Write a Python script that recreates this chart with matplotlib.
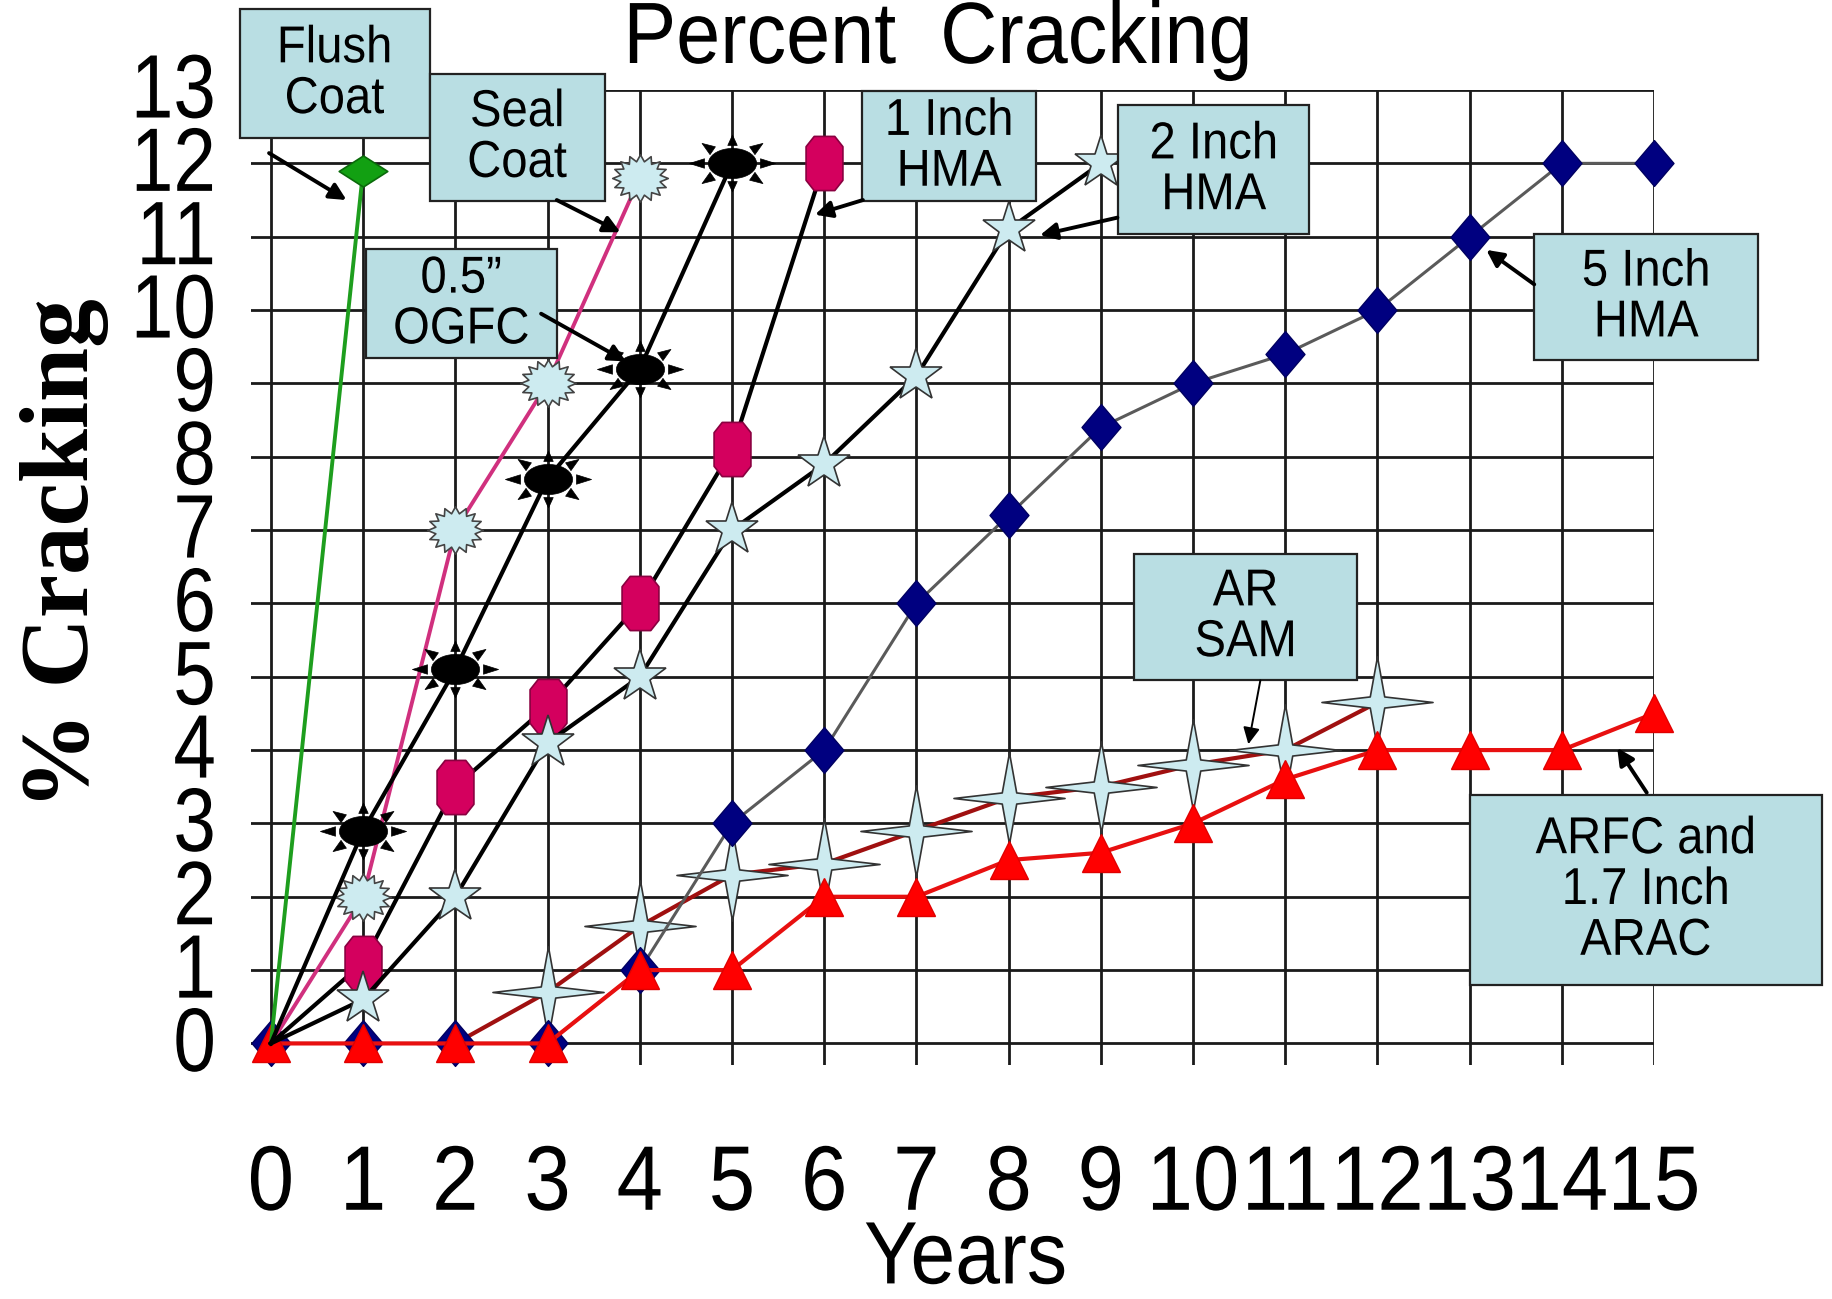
import numpy as np
import matplotlib
matplotlib.use('Agg')
import matplotlib.pyplot as plt
from matplotlib.path import Path
from matplotlib.patches import Rectangle
from matplotlib.patheffects import AbstractPathEffect
from matplotlib.transforms import Affine2D

# dados (anos x % de trincamento)
anos = list(range(16))

flush_anos = [0, 1]
flush_trinca = [0, 11.9]

seal_anos = [0, 1, 2, 3, 4]
seal_trinca = [0, 2.0, 7.0, 9.0, 11.8]

ogfc_anos = [0, 1, 2, 3, 4, 5]
ogfc_trinca = [0, 2.9, 5.1, 7.7, 9.2, 12.0]

hma1_anos = [0, 1, 2, 3, 4, 5, 6]
hma1_trinca = [0, 1.1, 3.5, 4.6, 6.0, 8.1, 12.0]

hma2_anos = [0, 1, 2, 3, 4, 5, 6, 7, 8, 9]
hma2_trinca = [0, 0.6, 2.0, 4.1, 5.0, 7.0, 7.9, 9.1, 11.1, 12.0]

hma5_trinca = [0, 0, 0, 0, 1, 3, 4, 6, 7.2, 8.4, 9.0, 9.4, 10.0, 11.0, 12.0, 12.0]

arsam_anos = [2, 3, 4, 5, 6, 7, 8, 9, 10, 11, 12]
arsam_trinca = [0, 0.7, 1.6, 2.3, 2.45, 2.9, 3.35, 3.5, 3.8, 4.0, 4.65]

arfc_trinca = [0, 0, 0, 0, 1, 1, 2, 2, 2.5, 2.6, 3.0, 3.6, 4.0, 4.0, 4.0, 4.5]

y_ticks = list(range(14))


# estica o texto na vertical (fonte mais alta e estreita)
class Estica(AbstractPathEffect):
    def __init__(self, sy):
        super().__init__()
        self.sy = sy

    def draw_path(self, renderer, gc, tpath, affine, rgbFace=None):
        renderer.draw_path(gc, tpath, Affine2D().scale(1, self.sy) + affine, rgbFace)


alto = [Estica(1.1)]
mais_alto = [Estica(1.18)]


# marcadores feitos a mao
def poligono(pts):
    return Path(np.array(pts + [pts[0]]), closed=True)


losango_alto = poligono([(0, 1), (0.85, 0), (0, -1), (-0.85, 0)])
losango_largo = poligono([(0, 0.64), (1, 0), (0, -0.64), (-1, 0)])
octogono = poligono([(-0.38, 1), (0.38, 1), (0.68, 0.62), (0.68, -0.62),
                     (0.38, -1), (-0.38, -1), (-0.68, -0.62), (-0.68, 0.62)])

ang = np.arange(32) * np.pi / 16
raio = np.where(np.arange(32) % 2 == 0, 1.0, 0.72)
explosao = poligono(list(zip(raio * np.cos(ang), 0.85 * raio * np.sin(ang))))

estrela4 = poligono([(1, 0), (0.13, 0.1), (0, 0.82), (-0.13, 0.1),
                     (-1, 0), (-0.13, -0.1), (0, -0.82), (0.13, -0.1)])


def marcador_sol():
    t = np.linspace(0, 2 * np.pi, 41)
    partes = [Path(np.column_stack([0.56 * np.cos(t), 0.35 * np.sin(t)]), closed=True)]
    for a in np.arange(8) * np.pi / 4:
        c, s = np.cos(a), np.sin(a)
        base = np.array([0.65 * c, 0.42 * s])
        ponta = np.array([1.0 * c, 0.66 * s])
        d = ponta - base
        n = np.array([-d[1], d[0]]) / np.hypot(*d) * 0.11
        partes.append(poligono([tuple(base + n), tuple(ponta), tuple(base - n)]))
    return Path.make_compound_path(*partes)


sol = marcador_sol()

azul_claro = '#CDEBF0'
fonte = 'Liberation Sans'

fig = plt.figure(figsize=(18.32, 12.99), dpi=100)
ax = fig.add_axes([0.1368, 0.1798, 0.7661, 0.7509])

ax.plot(arsam_anos, arsam_trinca, color='#A01010', lw=3, marker=estrela4, ms=80,
        mfc=azul_claro, mec='#333333', mew=1.2, markevery=slice(1, None), zorder=3, clip_on=False)
ax.plot(anos, hma5_trinca, color='#5A5A5A', lw=2.2, marker=losango_alto, ms=33,
        mfc='#000080', mec='#000060', zorder=4, clip_on=False)
ax.plot(anos, arfc_trinca, color='#E81010', lw=3, marker='^', ms=27,
        mfc='#FF0000', mec='#E00000', zorder=5, clip_on=False)
ax.plot(flush_anos, flush_trinca, color='#1E9E1E', lw=2.8, marker=losango_largo, ms=35,
        mfc='#12A012', mec='#0A6A0A', mew=1.2, markevery=[1], zorder=6, clip_on=False)
ax.plot(seal_anos, seal_trinca, color='#D0307E', lw=2.8, marker=explosao, ms=40,
        mfc=azul_claro, mec='#444444', mew=1.2, markevery=slice(1, None), zorder=6, clip_on=False)
ax.plot(ogfc_anos, ogfc_trinca, color='black', lw=3, marker=sol, ms=62,
        mfc='black', mec='black', mew=0.5, markevery=slice(1, None), zorder=7, clip_on=False)
ax.plot(hma1_anos, hma1_trinca, color='black', lw=3, marker=octogono, ms=39,
        mfc='#D4005E', mec='#8A0040', mew=1.2, markevery=slice(1, None), zorder=7, clip_on=False)
ax.plot(hma2_anos, hma2_trinca, color='black', lw=3, marker='*', ms=40,
        mfc=azul_claro, mec='#333333', mew=1.2, markevery=slice(1, None), zorder=8, clip_on=False)

ax.set_xlim(-0.22, 15)
ax.set_ylim(-0.3, 13)
ax.set_xticks(anos)
ax.set_yticks(y_ticks)
ax.set_xticklabels([str(a) for a in anos], fontsize=60, family=fonte, path_effects=alto)
ax.set_yticklabels([str(v) for v in y_ticks], fontsize=55, family=fonte, path_effects=mais_alto)
ax.tick_params(axis='both', length=0)
ax.tick_params(axis='x', pad=60)
ax.tick_params(axis='y', pad=25)
ax.grid(True, color='#1a1a1a', lw=2)
ax.set_axisbelow(True)
for lado in ax.spines.values():
    lado.set_visible(False)

# caixas de legenda com setas
caixas = [
    ('Flush\nCoat', -0.34, 12.35, 2.06, 1.75),
    ('Seal\nCoat', 1.72, 11.49, 1.90, 1.73),
    ('0.5\u201d\nOGFC', 1.03, 9.34, 2.07, 1.49),
    ('1 Inch\nHMA', 6.41, 11.49, 1.89, 1.49),
    ('2 Inch\nHMA', 9.19, 11.04, 2.07, 1.75),
    ('5 Inch\nHMA', 13.70, 9.32, 2.43, 1.72),
    ('AR\nSAM', 9.36, 4.96, 2.42, 1.72),
    ('ARFC and\n1.7 Inch\nARAC', 13.0, 0.80, 3.82, 2.59),
]
for texto, x0, y0, w, h in caixas:
    ax.add_patch(Rectangle((x0, y0), w, h, facecolor='#B9DEE3', edgecolor='#222222',
                           lw=1.6, zorder=10, clip_on=False))
    ax.text(x0 + w / 2, y0 + h / 2 - 0.03, texto, ha='center', va='center', fontsize=34,
            family=fonte, linespacing=1.2, zorder=11, clip_on=False, path_effects=alto)

setas = [
    ((-0.02, 12.14), (0.82, 11.5), 2.8),
    ((3.10, 11.5), (3.79, 11.06), 2.8),
    ((2.93, 9.95), (3.85, 9.3), 2.8),
    ((6.42, 11.5), (5.9, 11.3), 2.8),
    ((9.18, 11.26), (8.34, 11.02), 2.8),
    ((13.70, 10.35), (13.18, 10.82), 2.8),
    ((10.73, 4.95), (10.6, 4.08), 1.4),
    ((14.92, 3.42), (14.6, 4.03), 2.8),
]
for inicio, fim, largura in setas:
    ax.annotate('', xy=fim, xytext=inicio,
                arrowprops=dict(arrowstyle='-|>', color='black', lw=largura,
                                mutation_scale=25, shrinkA=0, shrinkB=0),
                zorder=12, annotation_clip=False)

fig.text(0.512, 0.9515, 'Percent  Cracking', fontsize=57, family=fonte, ha='center',
         va='baseline', path_effects=alto)
fig.text(0.527, 0.012, 'Years', fontsize=58, family=fonte, ha='center', va='baseline',
         path_effects=alto)
fig.text(0.035, 0.574, '% Cracking', fontsize=70, family='Liberation Serif', weight='bold',
         rotation=90, ha='center', va='center')

fig.savefig('out.png', dpi=100)
